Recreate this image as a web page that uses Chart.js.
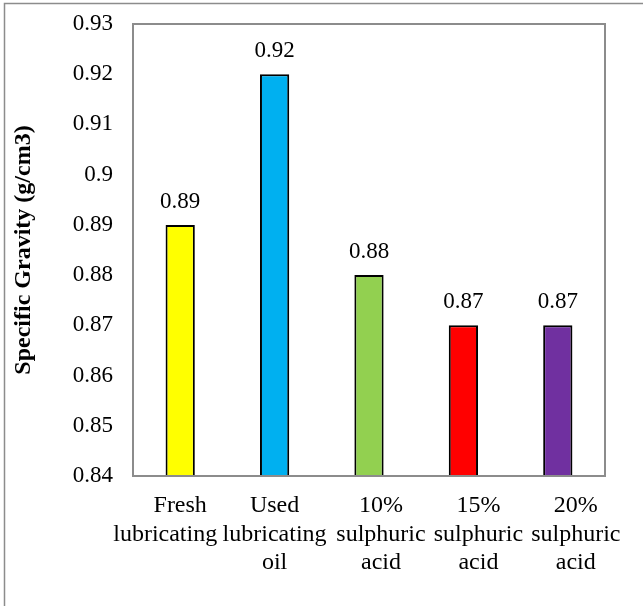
<!DOCTYPE html>
<html>
<head>
<meta charset="utf-8">
<script src="https://cdn.jsdelivr.net/npm/chart.js@4.4.1/dist/chart.umd.min.js"></script>
<style>
  html, body { margin: 0; padding: 0; background: #fff; }
  canvas { display: block; }
</style>
</head>
<body>
<canvas id="c" width="643" height="606"></canvas>
<script>
// Sample categories (multi-line axis labels). Padding spaces nudge a line
// sideways so neighbouring wrapped labels do not run into each other.
const categories = [
  ['Fresh', 'lubricating     '],
  ['Used', 'lubricating', 'oil'],
  ['    10%', '    sulphuric', '    acid'],
  ['     15%', '     sulphuric', '     acid'],
  ['      20%', '      sulphuric', '      acid']
];
// Specific gravity per sample (g/cm3)
const gravity = [0.89, 0.92, 0.88, 0.87, 0.87];
const barColors = ['#FFFF00', '#00B0F0', '#92D050', '#FF0000', '#7030A0'];
// Y axis tick labels, bottom to top
const yTickLabels = ['0.84', '0.85', '0.86', '0.87', '0.88', '0.89', '0.9', '0.91', '0.92', '0.93'];
const yTitle = 'Specific Gravity (g/cm3)';

const serif = "'Liberation Serif', 'Times New Roman', serif";
const frameGray = '#8c8c8c';

const framePlugin = {
  id: 'frame',
  beforeDraw(chart) {
    const ctx = chart.ctx;
    ctx.save();
    ctx.fillStyle = '#fff';
    ctx.fillRect(0, 0, chart.width, chart.height);
    ctx.strokeStyle = frameGray;
    ctx.lineWidth = 1.5;
    ctx.strokeRect(4.5, 3.5, chart.width + 10, chart.height + 10);
    ctx.restore();
  },
  afterDatasetsDraw(chart) {
    const ctx = chart.ctx;
    const a = chart.chartArea;
    ctx.save();
    ctx.strokeStyle = frameGray;
    ctx.lineWidth = 2;
    ctx.strokeRect(a.left, a.top, a.right - a.left, a.bottom - a.top);
    // value labels above bars
    const meta = chart.getDatasetMeta(0);
    ctx.fillStyle = '#000';
    ctx.font = '23px ' + serif;
    ctx.textAlign = 'center';
    ctx.textBaseline = 'alphabetic';
    meta.data.forEach((bar, i) => {
      ctx.fillText(gravity[i].toFixed(2), bar.x, bar.y - 17);
    });
    ctx.restore();
  }
};

new Chart(document.getElementById('c'), {
  type: 'bar',
  data: {
    labels: categories,
    datasets: [{
      data: gravity,
      backgroundColor: barColors,
      borderColor: '#000',
      borderWidth: 2,
      barPercentage: 0.31,
      categoryPercentage: 1.0
    }]
  },
  options: {
    responsive: false,
    animation: false,
    devicePixelRatio: 1,
    layout: { padding: { left: 0, top: 24, right: 38, bottom: 0 } },
    plugins: {
      legend: { display: false },
      tooltip: { enabled: false }
    },
    scales: {
      x: {
        grid: { display: false, drawTicks: false },
        border: { display: false },
        ticks: {
          color: '#000',
          font: { family: serif, size: 24, lineHeight: 1.18 },
          padding: 16,
          maxRotation: 0,
          autoSkip: false
        },
        afterFit(scale) { scale.height = 130; }
      },
      y: {
        min: 0.84,
        max: 0.93,
        grid: { display: false, drawTicks: false },
        border: { display: false },
        ticks: {
          stepSize: 0.01,
          color: '#000',
          font: { family: serif, size: 23 },
          padding: 20,
          callback: (v, i) => yTickLabels[i]
        },
        title: {
          display: true,
          text: yTitle,
          color: '#000',
          font: { family: serif, size: 24, weight: 'bold', lineHeight: 1.2 },
          padding: { top: 9, bottom: 0 }
        },
        afterFit(scale) {
          scale.width = 133;
          scale.paddingTop = 0;
          scale.paddingBottom = 0;
        }
      }
    }
  },
  plugins: [framePlugin]
});
</script>
</body>
</html>
